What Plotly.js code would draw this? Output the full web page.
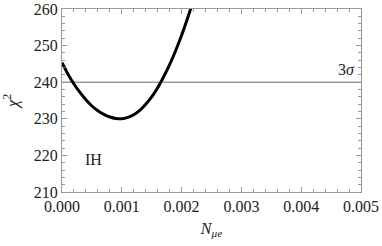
<!DOCTYPE html>
<html><head><meta charset="utf-8">
<script src="https://cdn.plot.ly/plotly-3.0.1.min.js"></script>
<style>html,body{margin:0;padding:0;background:#fff}</style>
</head><body>
<div id="chart" style="width:382px;height:246px"></div>
<script>
const nmue = [0, 0.0001, 0.0002, 0.0003, 0.0004, 0.0005, 0.0006, 0.0007, 0.0008, 0.0009, 0.001, 0.0011, 0.0012, 0.0013, 0.0014, 0.0015, 0.0016, 0.0017, 0.0018, 0.0019, 0.002, 0.0021, 0.0022];
const chi2 = [245.3, 242.2, 239.5, 237.2, 235.2, 233.5, 232.2, 231.2, 230.5, 230.1, 230.0, 230.4, 231.1, 232.3, 234.0, 236.0, 238.5, 241.5, 244.8, 248.6, 252.8, 257.5, 262.5];
const sigmaLevel = 240;
const hierarchyLabel = "IH";
const xTickVals = [0, 0.001, 0.002, 0.003, 0.004, 0.005];
const xTickText = ["0.000", "0.001", "0.002", "0.003", "0.004", "0.005"];
const yTickVals = [210, 220, 230, 240, 250, 260];

const serif = "Liberation Serif";
const traces = [
  {x: [0, 0.005], y: [sigmaLevel, sigmaLevel], mode: "lines", line: {color: "#999", width: 1.6}, hoverinfo: "skip"},
  {x: nmue, y: chi2, mode: "lines", line: {color: "#000", width: 3, shape: "spline", smoothing: 1}, hoverinfo: "skip"}
];
const axisCommon = {
  showgrid: false, zeroline: false, showline: true, linecolor: "#999", linewidth: 1,
  mirror: "allticks", ticks: "inside", ticklen: 5, tickcolor: "#999", tickwidth: 1,
  tickfont: {family: serif, size: 16, color: "#222"}
};
const layout = {
  width: 382, height: 246,
  margin: {l: 62, r: 21, t: 9, b: 54},
  paper_bgcolor: "#fff", plot_bgcolor: "#fff",
  font: {family: serif},
  showlegend: false,
  xaxis: Object.assign({}, axisCommon, {
    range: [0, 0.005], tickvals: xTickVals, ticktext: xTickText,
    minor: {dtick: 0.0002, ticks: "inside", ticklen: 3, tickcolor: "#999"},
    title: {text: "<i>N</i><sub><i>μe</i></sub>", font: {family: serif, size: 16, color: "#222"}, standoff: 8}
  }),
  yaxis: Object.assign({}, axisCommon, {
    range: [210, 260], tickvals: yTickVals,
    minor: {dtick: 2, ticks: "inside", ticklen: 3, tickcolor: "#999"},
    title: {text: "<i>χ</i><sup>2</sup>", font: {family: serif, size: 17, color: "#222"}, standoff: 10}
  }),
  annotations: [
    {x: 0.00475, y: 243.5, xref: "x", yref: "y", text: "3<i>σ</i>", showarrow: false, font: {family: serif, size: 16, color: "#222"}},
    {x: 0.00052, y: 219, xref: "x", yref: "y", text: hierarchyLabel, showarrow: false, font: {family: serif, size: 16, color: "#222"}}
  ]
};
Plotly.newPlot("chart", traces, layout, {displayModeBar: false, staticPlot: true});
</script>
</body></html>
